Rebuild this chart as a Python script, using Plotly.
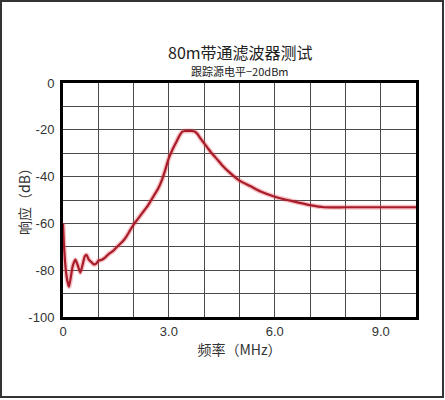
import plotly.graph_objects as go

title_text = "80m带通滤波器测试"
subtitle_text = "跟踪源电平−20dBm"
x_title = "频率（MHz）"
y_title = "响应（dB）"

freq_mhz = [0.0, 0.03, 0.08, 0.13, 0.17, 0.22, 0.28, 0.35, 0.42, 0.49, 0.55, 0.62, 0.67,
            0.73, 0.80, 0.87, 0.94, 1.00, 1.10, 1.20, 1.30, 1.40, 1.50, 1.60, 1.70, 1.80,
            1.90, 2.00, 2.10, 2.20, 2.30, 2.40, 2.50, 2.60, 2.70, 2.80, 2.90, 3.00, 3.10,
            3.20, 3.30, 3.38, 3.45, 3.55, 3.65, 3.74, 3.82, 3.90, 4.00, 4.10, 4.20, 4.30,
            4.40, 4.50, 4.70, 5.00, 5.30, 5.60, 6.00, 6.50, 7.00, 7.40, 8.00, 9.00, 10.00]
response_db = [-60, -70, -80, -85, -87, -83, -78, -75.5, -78, -81, -78, -74, -73.5,
               -75.5, -76.5, -77.5, -77.2, -76, -75.5, -74.5, -73, -72, -70.5, -69, -67.5, -65.5,
               -63, -60.5, -58.5, -56.5, -54.5, -52.5, -50, -47.5, -45, -41.5, -37, -32, -28.5,
               -25.5, -22.5, -20.8, -20.5, -20.5, -20.5, -20.8, -22, -23.8, -25.8, -27.8, -29.8, -31.5,
               -33.2, -35, -38, -41.7, -44, -46.4, -48.6, -50.5, -52.2, -53.1, -53.1, -53.1, -53.1]

x_tick_vals = [0, 3, 6, 9]
x_tick_text = ["0", "3.0", "6.0", "9.0"]
y_tick_vals = [0, -20, -40, -60, -80, -100]
y_tick_text = ["0", "-20", "-40", "-60", "-80", "-100"]

fig = go.Figure()
fig.add_trace(go.Scatter(x=freq_mhz, y=response_db, mode="lines",
                         line=dict(color="rgba(230,80,90,0.35)", width=5, shape="spline", smoothing=0.6),
                         hoverinfo="skip", showlegend=False))
fig.add_trace(go.Scatter(x=freq_mhz, y=response_db, mode="lines",
                         line=dict(color="#a81c2a", width=2.2, shape="spline", smoothing=0.6),
                         showlegend=False))

grid_color = "#4a4a4a"
fig.update_xaxes(range=[0, 10], tickvals=x_tick_vals, ticktext=x_tick_text,
                 showgrid=True, gridcolor=grid_color, gridwidth=1.2,
                 minor=dict(dtick=1, showgrid=True, gridcolor=grid_color, gridwidth=1.2, tick0=0),
                 showline=True, linecolor="black", linewidth=3, mirror=True,
                 zeroline=False, ticks="", ticklen=0,
                 tickfont=dict(family="Liberation Sans, Arial", size=13, color="#333"),
                 title=dict(text=x_title, standoff=6,
                            font=dict(family="Noto Sans CJK SC", size=14, color="#333")))
fig.update_yaxes(range=[-100, 0], tickvals=y_tick_vals, ticktext=y_tick_text,
                 showgrid=True, gridcolor=grid_color, gridwidth=1.2,
                 minor=dict(dtick=10, showgrid=True, gridcolor=grid_color, gridwidth=1.2, tick0=0),
                 showline=True, linecolor="black", linewidth=3, mirror=True,
                 zeroline=False, ticks="", ticklen=0, ticklabelstandoff=3,
                 tickfont=dict(family="Liberation Sans, Arial", size=13, color="#333"))

# convert pixel positions to paper coordinates for annotations/frame
L, R, T, B = 63, 416, 83, 317
def px(x):
    return (x - L) / (R - L)
def py(y):
    return (B - y) / (B - T)

fig.update_layout(
    width=445, height=400,
    margin=dict(l=63, r=29, t=83, b=83),
    paper_bgcolor="white", plot_bgcolor="white",
    annotations=[
        dict(text=title_text, x=px(240), y=py(52), xref="paper", yref="paper", showarrow=False,
             xanchor="center", yanchor="middle",
             font=dict(family="Noto Sans CJK SC", size=16, color="#222")),
        dict(text=subtitle_text, x=px(240), y=py(71), xref="paper", yref="paper", showarrow=False,
             xanchor="center", yanchor="middle",
             font=dict(family="Noto Sans CJK SC", size=11, color="#222")),
        dict(text=y_title, x=px(24), y=py(198), xref="paper", yref="paper", showarrow=False,
             xanchor="center", yanchor="middle", textangle=-90,
             font=dict(family="Noto Sans CJK SC", size=14, color="#333")),
    ],
)

fig.add_shape(type="rect", xref="paper", yref="paper",
              x0=px(1), x1=px(443), y0=py(397), y1=py(1),
              line=dict(color="#333", width=2), layer="below")

fig.write_html("out.html", config={"displayModeBar": False},
               post_script="document.body.style.margin='0';")
